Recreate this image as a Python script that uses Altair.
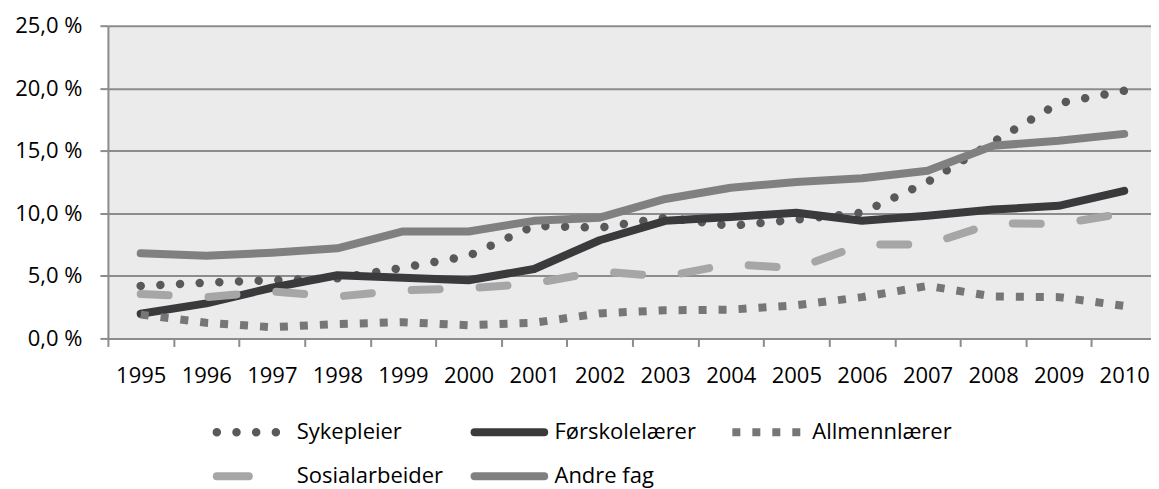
import altair as alt
import pandas as pd

years = [str(y) for y in range(1995, 2011)]
series = ["Sykepleier", "Førskolelærer", "Allmennlærer", "Sosialarbeider", "Andre fag"]

sykepleier = [4.2, 4.45, 4.65, 4.8, 5.65, 6.6, 9.0, 8.85, 9.65, 9.0, 9.5, 10.05, 12.5, 15.7, 18.8, 19.8]
forskolelaerer = [1.97, 2.8, 4.05, 5.05, 4.85, 4.65, 5.55, 7.85, 9.4, 9.7, 10.05, 9.4, 9.8, 10.3, 10.6, 11.8]
allmennlaerer = [1.9, 1.25, 0.9, 1.15, 1.3, 1.05, 1.25, 2.0, 2.25, 2.3, 2.65, 3.3, 4.2, 3.35, 3.3, 2.6]
sosialarbeider = [3.55, 3.3, 3.75, 3.35, 3.85, 4.0, 4.4, 5.35, 4.95, 5.95, 5.6, 7.5, 7.5, 9.2, 9.15, 10.0]
andre_fag = [6.8, 6.6, 6.85, 7.2, 8.55, 8.55, 9.4, 9.65, 11.15, 12.05, 12.5, 12.8, 13.4, 15.4, 15.8, 16.35]

y_ticks = [0, 5, 10, 15, 20, 25]

all_values = [sykepleier, forskolelaerer, allmennlaerer, sosialarbeider, andre_fag]
records = []
for name, vals in zip(series, all_values):
    for yr, v in zip(years, vals):
        records.append({"series": name, "year": yr, "value": v})
df = pd.DataFrame(records)

legend_df = pd.DataFrame({
    "series": series,
    "row": [i // 3 for i in range(len(series))],
    "col": [i % 3 for i in range(len(series))],
})

styles = {
    "Sykepleier": dict(color="#595959", strokeDash=[0.001, 19.7], strokeCap="round", strokeWidth=8.5),
    "Førskolelærer": dict(color="#3a3a3c", strokeCap="round", strokeWidth=8),
    "Allmennlærer": dict(color="#767676", strokeDash=[8, 12], strokeCap="butt", strokeWidth=8),
    "Sosialarbeider": dict(color="#a6a6a6", strokeDash=[28, 40], strokeCap="round", strokeWidth=8),
    "Andre fag": dict(color="#808080", strokeCap="round", strokeWidth=8),
}
legend_dash = {"Sosialarbeider": [32, 100]}

W, H = 1050, 313
FONT = "Open Sans"
GRID = "#8c8c8c"

x_enc = alt.X(
    "year:O", sort=years,
    scale=alt.Scale(type="band", paddingInner=0, paddingOuter=0),
    axis=alt.Axis(title=None, labelAngle=0, tickBand="extent", grid=False,
                  labelPadding=19, tickSize=8, domain=True),
)
y_enc = alt.Y(
    "value:Q",
    scale=alt.Scale(domain=[0, 25], nice=False, zero=True),
    axis=alt.Axis(title=None, values=y_ticks, grid=True, tickSize=8, labelPadding=18,
                  minExtent=100, maxExtent=100,
                  labelExpr="replace(format(datum.value, '.1f'), '.', ',') + ' %'"),
)

line_layers = []
for name in series:
    st = styles[name]
    line_layers.append(
        alt.Chart(df).transform_filter(alt.datum.series == name)
        .mark_line(strokeJoin="round", **st)
        .encode(x=x_enc, y=y_enc)
    )
main = alt.layer(*line_layers)

# legend placement (scale domains chosen so that rows/columns fall below the plot)
ROW0, ROW_STEP = 407, 44
lx = alt.Scale(domain=[-109 / 258, (W - 109) / 258], nice=False, zero=False)
ly = alt.Scale(domain=[-ROW0 / ROW_STEP, (H - ROW0) / ROW_STEP], nice=False, zero=False, reverse=True)

legend_layers = []
for name in series:
    st = dict(styles[name])
    if name in legend_dash:
        st["strokeDash"] = legend_dash[name]
    legend_layers.append(
        alt.Chart(legend_df).transform_filter(alt.datum.series == name)
        .transform_calculate(u1="datum.col + 0.27")
        .mark_rule(**st)
        .encode(x=alt.X("col:Q", scale=lx, axis=None), x2="u1:Q",
                y=alt.Y("row:Q", scale=ly, axis=None))
    )
legend_layers.append(
    alt.Chart(legend_df).transform_calculate(tx="datum.col + 0.31")
    .mark_text(align="left", baseline="middle", font=FONT, fontSize=22, color="black")
    .encode(x=alt.X("tx:Q", scale=lx, axis=None),
            y=alt.Y("row:Q", scale=ly, axis=None),
            text="series:N")
)
legend = alt.layer(*legend_layers)

chart = (
    alt.layer(main, legend)
    .resolve_scale(x="independent", y="independent")
    .properties(width=W, height=H, padding={"left": 0, "top": 6.5, "right": -7, "bottom": 0})
    .configure_view(fill="#ebebeb", stroke=None)
    .configure_axis(labelFont=FONT, labelFontSize=22, labelColor="black",
                    domainColor=GRID, tickColor=GRID, gridColor=GRID,
                    domainWidth=2, tickWidth=2, gridWidth=2)
)

chart.save("out.html", embed_options={"renderer": "svg", "actions": False})
